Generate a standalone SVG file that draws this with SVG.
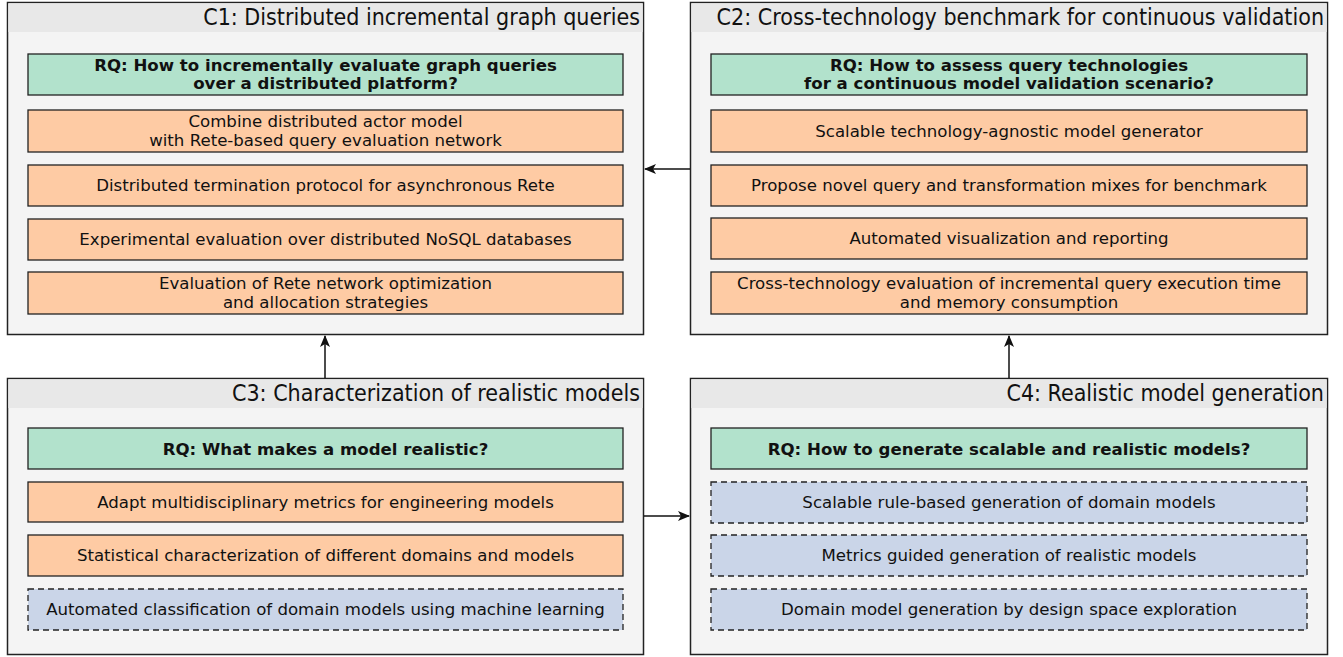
<svg xmlns="http://www.w3.org/2000/svg" width="1343" height="657" viewBox="0 0 1343 657">
<style>
.cont{fill:#f4f4f4;stroke:#222;stroke-width:1.5}
.hdr{fill:#e8e8e8}
.title{font-family:"DejaVu Sans Condensed","DejaVu Sans",sans-serif;font-stretch:condensed;font-size:23px;font-weight:normal;fill:#111;text-anchor:end}
.rq{fill:#b2e2cc;stroke:#222;stroke-width:1.3}
.or{fill:#fecba4;stroke:#222;stroke-width:1.3}
.bl{fill:#cad5e8;stroke:#222;stroke-width:1.3;stroke-dasharray:6,4}
.t{font-family:"DejaVu Sans",sans-serif;font-size:16.6px;fill:#111;text-anchor:middle}
.tb{font-family:"DejaVu Sans",sans-serif;font-size:16.6px;font-weight:bold;fill:#111;text-anchor:middle}
.conn{stroke:#111;stroke-width:1.5;fill:none;marker-end:url(#ah)}
</style>
<defs>
<marker id="ah" viewBox="0 0 12 10" refX="11" refY="5" markerWidth="12" markerHeight="10" markerUnits="userSpaceOnUse" orient="auto">
<path d="M0,0 L12,5 L0,10 L3,5 Z" fill="#111"/>
</marker>
</defs>
<rect width="1343" height="657" fill="#fff"/>

<g id="C1">
<rect class="cont" x="7.5" y="2.5" width="636" height="332"/>
<rect class="hdr" x="8.3" y="3.3" width="634.4" height="28.7"/>
<text class="title" x="640" y="25">C1: Distributed incremental graph queries</text>
<rect class="rq" x="28" y="54" width="595" height="41"/>
<text class="tb" x="325.5" y="71">RQ: How to incrementally evaluate graph queries</text>
<text class="tb" x="325.5" y="89">over a distributed platform?</text>
<rect class="or" x="28" y="110" width="595" height="42"/>
<text class="t" x="325.5" y="127">Combine distributed actor model</text>
<text class="t" x="325.5" y="146">with Rete-based query evaluation network</text>
<rect class="or" x="28" y="165" width="595" height="41"/>
<text class="t" x="325.5" y="191">Distributed termination protocol for asynchronous Rete</text>
<rect class="or" x="28" y="219" width="595" height="41"/>
<text class="t" x="325.5" y="245">Experimental evaluation over distributed NoSQL databases</text>
<rect class="or" x="28" y="272" width="595" height="42"/>
<text class="t" x="325.5" y="289">Evaluation of Rete network optimization</text>
<text class="t" x="325.5" y="308">and allocation strategies</text>
</g>

<g id="C2">
<rect class="cont" x="690.5" y="2.5" width="637" height="332"/>
<rect class="hdr" x="691.3" y="3.3" width="635.4" height="28.7"/>
<text class="title" x="1324" y="25">C2: Cross-technology benchmark for continuous validation</text>
<rect class="rq" x="711" y="54" width="596" height="41"/>
<text class="tb" x="1009" y="71">RQ: How to assess query technologies</text>
<text class="tb" x="1009" y="89">for a continuous model validation scenario?</text>
<rect class="or" x="711" y="110" width="596" height="42"/>
<text class="t" x="1009" y="137">Scalable technology-agnostic model generator</text>
<rect class="or" x="711" y="165" width="596" height="41"/>
<text class="t" x="1009" y="191">Propose novel query and transformation mixes for benchmark</text>
<rect class="or" x="711" y="218" width="596" height="41"/>
<text class="t" x="1009" y="244">Automated visualization and reporting</text>
<rect class="or" x="711" y="272" width="596" height="42"/>
<text class="t" x="1009" y="289">Cross-technology evaluation of incremental query execution time</text>
<text class="t" x="1009" y="308">and memory consumption</text>
</g>

<g id="C3">
<rect class="cont" x="7.5" y="378.5" width="636" height="276"/>
<rect class="hdr" x="8.3" y="379.3" width="634.4" height="28.7"/>
<text class="title" x="640" y="401">C3: Characterization of realistic models</text>
<rect class="rq" x="28" y="428" width="595" height="41"/>
<text class="tb" x="325.5" y="455">RQ: What makes a model realistic?</text>
<rect class="or" x="28" y="482" width="595" height="40"/>
<text class="t" x="325.5" y="508">Adapt multidisciplinary metrics for engineering models</text>
<rect class="or" x="28" y="535" width="595" height="41"/>
<text class="t" x="325.5" y="561">Statistical characterization of different domains and models</text>
<rect class="bl" x="28" y="589" width="595" height="41"/>
<text class="t" x="325.5" y="615">Automated classification of domain models using machine learning</text>
</g>

<g id="C4">
<rect class="cont" x="690.5" y="378.5" width="637" height="276"/>
<rect class="hdr" x="691.3" y="379.3" width="635.4" height="28.7"/>
<text class="title" x="1324" y="401">C4: Realistic model generation</text>
<rect class="rq" x="711" y="428" width="596" height="41"/>
<text class="tb" x="1009" y="455">RQ: How to generate scalable and realistic models?</text>
<rect class="bl" x="711" y="482" width="596" height="41"/>
<text class="t" x="1009" y="508">Scalable rule-based generation of domain models</text>
<rect class="bl" x="711" y="535" width="596" height="41"/>
<text class="t" x="1009" y="561">Metrics guided generation of realistic models</text>
<rect class="bl" x="711" y="589" width="596" height="41"/>
<text class="t" x="1009" y="615">Domain model generation by design space exploration</text>
</g>

<g id="connectors">
<line class="conn" x1="690" y1="169" x2="645" y2="169"/>
<line class="conn" x1="325" y1="378" x2="325" y2="336"/>
<line class="conn" x1="1009" y1="378" x2="1009" y2="336"/>
<line class="conn" x1="644" y1="516" x2="689" y2="516"/>
</g>
</svg>
